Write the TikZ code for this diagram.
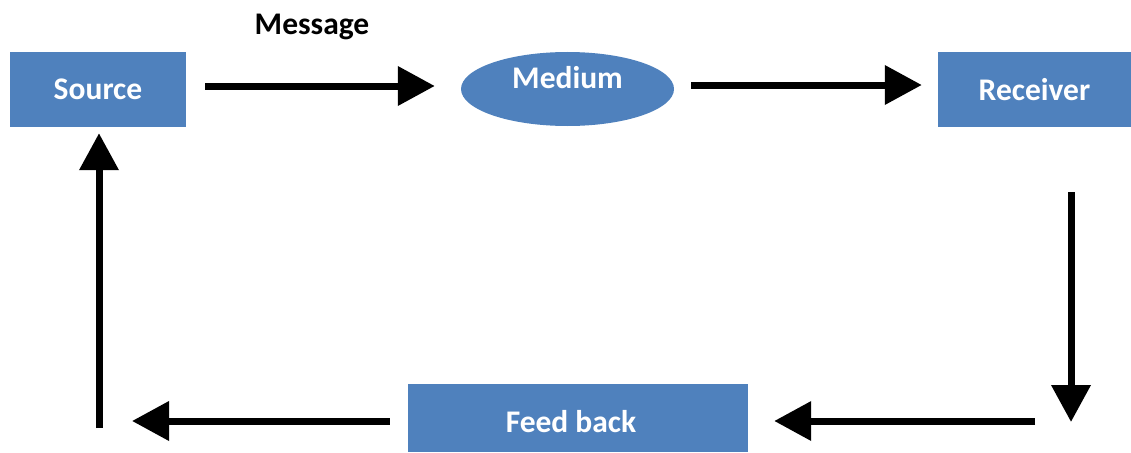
\documentclass[tikz,border=0pt]{standalone}
\usepackage{fontspec}
\setmainfont{Carlito}
\usetikzlibrary{arrows.meta,shapes.geometric}
\definecolor{boxblue}{RGB}{79,129,189}
\tikzset{
  lbl/.style={font=\bfseries\fontsize{31.5}{34}\selectfont},
  box/.style={rectangle, fill=boxblue, draw=none, text=white, lbl, inner sep=0pt},
  arr/.style={line width=7pt, -{Triangle[width=38pt,length=37pt]}},
}
\begin{document}
\begin{tikzpicture}[x=1pt,y=-1pt]
\useasboundingbox (0,0) rectangle (1131,452);
\node[box, minimum width=176pt, minimum height=75pt] (src) at (98,89.5) {Source};
\node[ellipse, fill=boxblue, minimum width=213pt, minimum height=74pt, inner sep=0pt,
      label={[text=white, lbl, yshift=11pt]center:Medium}] (med) at (567.5,89) {};
\node[box, minimum width=193pt, minimum height=75pt] (rcv) at (1034.5,89.5) {Receiver};
\node[box, minimum width=340pt, minimum height=68pt,
      label={[text=white, lbl, yshift=-4pt, xshift=-7pt]center:Feed back}] (fb) at (578,418) {};
\node[lbl] (msg) at (312,27) {Message};
\coordinate (br) at (1071,421);
\coordinate (bl) at (99,421);
\draw[arr, shorten <=19pt, shorten >=26pt] ([yshift=3.5pt]src.east) -- ([yshift=3pt]med.west);
\draw[arr, shorten <=17pt, shorten >=16pt] ([yshift=4pt]med.east) -- ([yshift=4.5pt]rcv.west);
\draw[arr, shorten <=65pt, shorten >=-1pt] ([xshift=36.5pt]rcv.south) -- (br);
\draw[arr, shorten <=36pt, shorten >=26pt] (br) -- (fb.east |- br);
\draw[arr, shorten <=18pt, shorten >=33pt] (fb.west |- bl) -- (bl);
\draw[arr, shorten <=-7pt, shorten >=6pt] (bl) -- (src.south -| bl);
\end{tikzpicture}
\end{document}
